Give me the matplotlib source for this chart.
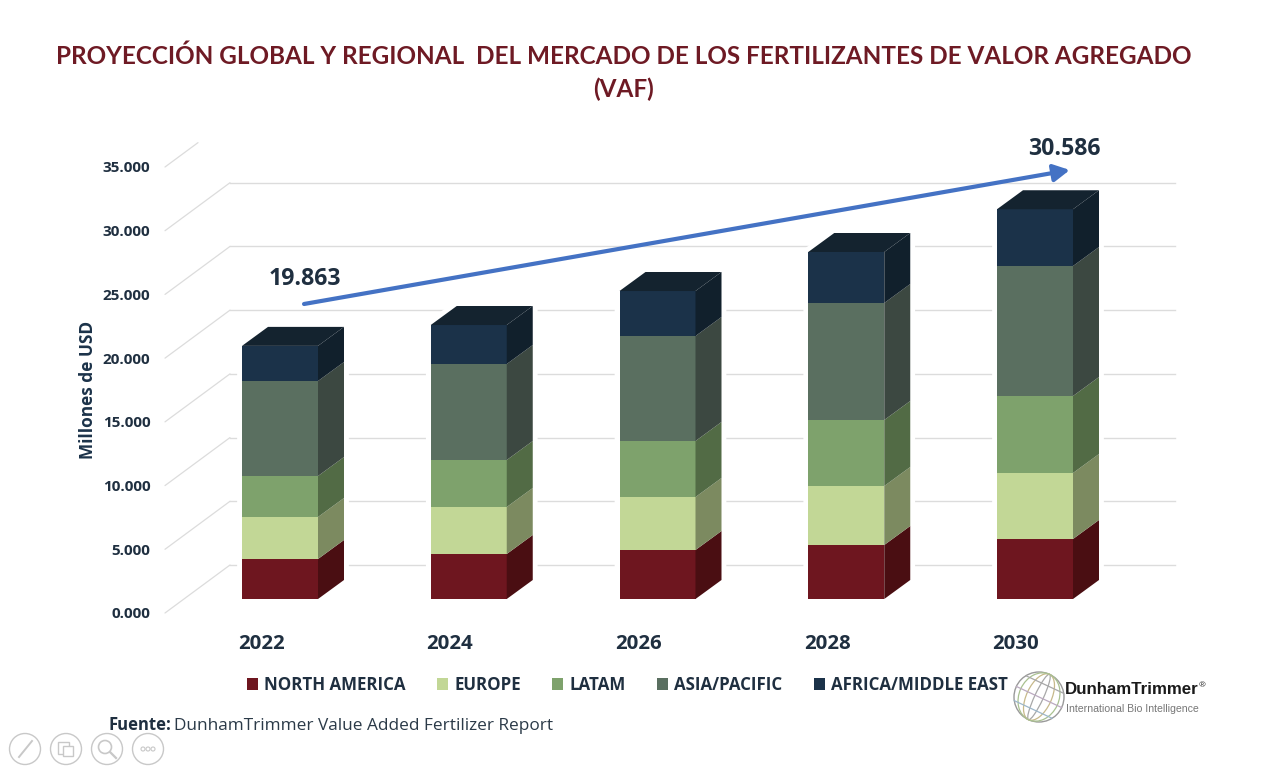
import matplotlib
matplotlib.use("Agg")
import matplotlib.pyplot as plt
import numpy as np
from matplotlib.patches import Polygon, Circle, Ellipse, Rectangle, Patch

years = ["2022", "2024", "2026", "2028", "2030"]
north_america = [3139, 3531, 3845, 4238, 4709]
europe = [3296, 3689, 4159, 4630, 5179]
latam = [3217, 3688, 4395, 5179, 6042]
asia_pacific = [7455, 7534, 8240, 9182, 10202]
africa_me = [2756, 3060, 3531, 4002, 4454]
series_names = ["NORTH AMERICA", "EUROPE", "LATAM", "ASIA/PACIFIC", "AFRICA/MIDDLE EAST"]
y_ticks = [0, 5000, 10000, 15000, 20000, 25000, 30000, 35000]
y_tick_labels = ["0.000", "5.000", "10.000", "15.000", "20.000", "25.000", "30.000", "35.000"]

front_cols = ["#6E161F", "#C2D796", "#7EA26C", "#5A6F60", "#1B3249"]
side_cols = ["#4A0E12", "#7C8A60", "#526B45", "#3C4841", "#11202C"]
top_col = "#14232F"
txt_col = "#1F2F40"
grid_col = "#DCDCDC"

W, H = 1280, 767
fig = plt.figure(figsize=(W / 100, H / 100), dpi=100, facecolor="white")
plt.rcParams["font.family"] = ["Open Sans", "DejaVu Sans"]

L, R, B, T = 165, 1110, 613, 167
ax = fig.add_axes([L / W, (H - B) / H, (R - L) / W, (B - T) / H])
px_x = 188.75
px_y = (B - T) / 35000
ax.set_xlim((L - 261) / px_x, (R - 261) / px_x)
ax.set_ylim(0, 35000)
ax.patch.set_alpha(0)
for s in ax.spines.values():
    s.set_visible(False)

# Depth conversions (pixel offsets of the pseudo-3D box to data units)
wall_dx, wall_dy = 65 / px_x, 48 / px_y
bar_off_x, bar_off_y = 19 / px_x, 14 / px_y
bar_w = 76 / px_x
bar_dx, bar_dy = 26 / px_x, 19 / px_y
x0 = ax.get_xlim()[0]
x_end = x0 + (1175 - L) / px_x

# Walls
for v in y_ticks:
    frac = 1.0 if v < 35000 else 33 / 65
    ax.plot([x0, x0 + wall_dx * frac], [v, v + wall_dy * frac], color=grid_col, lw=0.9,
            clip_on=False, zorder=1, solid_capstyle="round")
    if v < 35000:
        ax.plot([x0 + wall_dx, x_end], [v + wall_dy, v + wall_dy], color=grid_col, lw=1.0,
                clip_on=False, zorder=1)

# Bars
series = [north_america, europe, latam, asia_pacific, africa_me]
xpos = np.arange(len(years)) + bar_off_x
bottom = np.full(len(years), bar_off_y, dtype=float)
for k, vals in enumerate(series):
    vals = np.array(vals, dtype=float)
    ax.bar(xpos, vals, bar_w, bottom=bottom, color=front_cols[k], linewidth=0, zorder=4, clip_on=False)
    for xc, b, v in zip(xpos, bottom, vals):
        xr = xc + bar_w / 2
        ax.add_patch(Polygon([(xr, b), (xr + bar_dx, b + bar_dy), (xr + bar_dx, b + v + bar_dy), (xr, b + v)],
                             closed=True, fc=side_cols[k], ec="none", zorder=4, clip_on=False))
    bottom = bottom + vals
for xc, t, b0 in zip(xpos, bottom, [bar_off_y] * len(years)):
    xl, xr = xc - bar_w / 2, xc + bar_w / 2
    ax.add_patch(Polygon([(xl, t), (xr, t), (xr + bar_dx, t + bar_dy), (xl + bar_dx, t + bar_dy)],
                         closed=True, fc=top_col, ec="none", zorder=4, clip_on=False))
    # white halo that interrupts gridlines near the bars
    ax.add_patch(Polygon([(xl, b0), (xr, b0), (xr + bar_dx, b0 + bar_dy), (xr + bar_dx, t + bar_dy),
                          (xl + bar_dx, t + bar_dy), (xl, t)],
                         closed=True, fc="white", ec="white", lw=7, zorder=2, clip_on=False))

# Axes ticks
ax.set_yticks(y_ticks)
ax.set_yticklabels(y_tick_labels, fontsize=11, fontweight="bold", color=txt_col)
ax.set_xticks(np.arange(len(years)))
ax.set_xticklabels(years, fontsize=14.7, fontweight="bold", color=txt_col)
ax.tick_params(axis="y", length=0, pad=10.5)
ax.tick_params(axis="x", length=0, pad=15.2)
ax.set_ylabel("Millones de USD", fontsize=12.4, fontweight="bold", color="#1B3249")
ax.yaxis.set_label_coords((97 - L) / (R - L), (B - 390) / (B - T))

# Trend arrow
tot_first = sum(s[0] for s in series)
tot_last = sum(s[-1] for s in series)
start = (0.228, tot_first + 4386)
end = (4.285, tot_last + 4178)
ax.annotate("", xy=end, xytext=start, annotation_clip=False, zorder=6,
            arrowprops=dict(arrowstyle="-|>,head_length=0.6,head_width=0.32", color="#4472C4", lw=3.0,
                            mutation_scale=16, shrinkA=0, shrinkB=0))
fmt = lambda v: f"{v:,}".replace(",", ".")
ov_txt = dict(fontsize=16.7, fontweight="bold", color=txt_col, ha="center", va="center")
fig.text(305 / W, 1 - 279 / H, fmt(tot_first), **ov_txt)
fig.text(1064 / W, 1 - 149 / H, fmt(tot_last), **ov_txt)

# Title
fig.text(624 / W, 1 - 72.5 / H,
         "PROYECCIÓN GLOBAL Y REGIONAL  DEL MERCADO DE LOS FERTILIZANTES DE VALOR AGREGADO\n(VAF)",
         fontsize=17.5, fontweight="bold", color="#6E1A24", ha="center", va="center", linespacing=1.5,
         family=["Lato", "DejaVu Sans"])

# Legend
handles = [Patch(fc=c, ec="none") for c in front_cols]
fig.legend(handles, series_names, loc="center", bbox_to_anchor=(627.5 / W, 1 - 685 / H), ncol=5, frameon=False,
           handlelength=0.65, handleheight=0.65, handletextpad=0.35, columnspacing=1.87,
           prop=dict(family="Open Sans", weight="bold", size=12.2), labelcolor=txt_col)

# Source
fig.text(108 / W, 1 - 725.5 / H, "Fuente:", fontsize=12, fontweight="bold", color=txt_col, ha="left", va="center")
fig.text(174.5 / W, 1 - 725.5 / H, "DunhamTrimmer Value Added Fertilizer Report", fontsize=12.45, color="#2B3A48",
         ha="left", va="center")

# Decoration layer in pixel units: logo and viewer toolbar
ov = fig.add_axes([0, 0, 1, 1], zorder=5)
ov.set_xlim(0, W)
ov.set_ylim(H, 0)
ov.axis("off")
ov.patch.set_alpha(0)
gcx, gcy, r = 1039, 697, 25
globe_cols = ["#A8A8A8", "#C7B98A", "#A9C190", "#A8A8A8", "#BBAAC0", "#9DB7CA", "#A8A8A8"]
ov.add_patch(Circle((gcx, gcy), r, fc="none", ec="#9A9A9A", lw=1.0))
for i, w in enumerate([0.35, 1.0, 1.6]):
    ov.add_patch(Ellipse((gcx, gcy), w * r, 2 * r, angle=25, fc="none", ec=globe_cols[i], lw=0.9))
for i, f in enumerate([-0.55, 0.0, 0.55]):
    half = np.sqrt(1 - f ** 2) * r
    a = np.deg2rad(25)
    cx, cy = gcx - f * r * np.sin(a), gcy + f * r * np.cos(a)
    ov.plot([cx - half * np.cos(a), cx + half * np.cos(a)], [cy - half * np.sin(a), cy + half * np.sin(a)],
            color=globe_cols[i + 3], lw=0.9)
ov.text(1065, 690, "DunhamTrimmer", family=["Liberation Sans"], fontweight="bold",
        fontsize=12.2, color="#1A1A1A", ha="left", va="center")
ov.text(1199, 686, "®", fontsize=6, color="#333333", ha="left", va="center")
ov.text(1066, 709, "International Bio Intelligence", family=["Liberation Sans"],
        fontsize=7.6, color="#777777", ha="left", va="center")

icon = "#C8C8C8"
for cx in [25, 66, 107, 148]:
    ov.add_patch(Circle((cx, 749), 15.5, fc="white", ec=icon, lw=1.0))
ov.plot([19, 32], [757, 741], color=icon, lw=1.4)
ov.add_patch(Rectangle((58, 742), 11, 12, fc="none", ec=icon, lw=1))
ov.add_patch(Rectangle((63, 746), 10, 10, fc="white", ec=icon, lw=1))
ov.add_patch(Circle((105, 747), 6.5, fc="none", ec=icon, lw=1.2))
ov.plot([110, 116], [752, 758], color=icon, lw=1.6)
for dx in [-5, 0, 5]:
    ov.add_patch(Circle((148 + dx, 749), 2, fc="none", ec=icon, lw=0.8))

fig.savefig("out.png", dpi=100, facecolor="white")
